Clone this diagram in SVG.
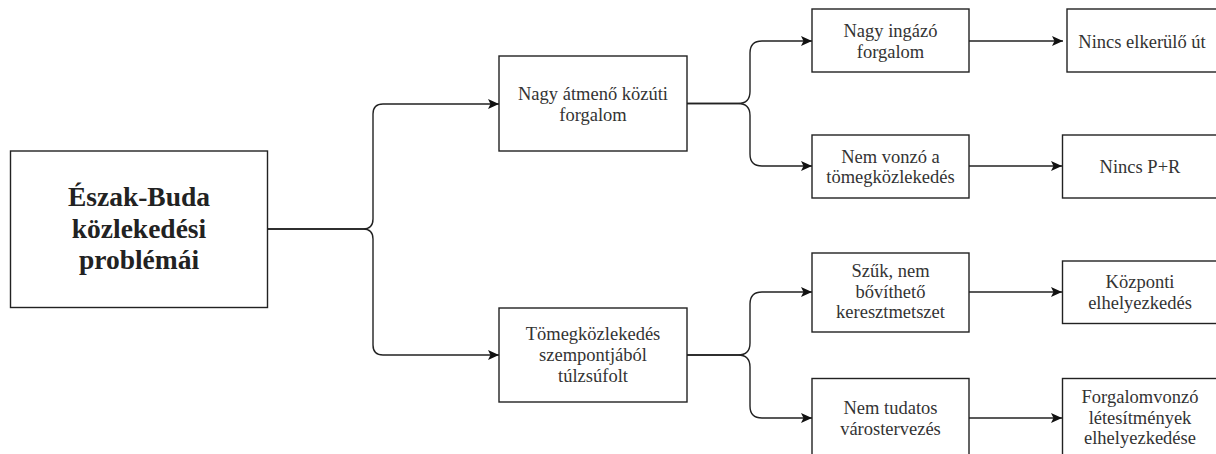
<svg xmlns="http://www.w3.org/2000/svg" width="1216" height="454" viewBox="0 0 1216 454">
<style>
.box{fill:#fff;stroke:#222;stroke-width:1.4}
.lbl{font-family:"Liberation Serif","Times New Roman",serif;font-size:18.5px;fill:#333;text-anchor:middle}
.rootlbl{font-family:"Liberation Serif","Times New Roman",serif;font-size:27.5px;font-weight:bold;fill:#222;text-anchor:middle}
.c{fill:none;stroke:#222;stroke-width:1.4}
</style>
<defs>
<marker id="arr" markerUnits="userSpaceOnUse" markerWidth="11" markerHeight="10" refX="11" refY="5" orient="auto">
<path d="M0,0 L11,5 L0,10 L2.5,5 z" fill="#111"/>
</marker>
</defs>
<rect width="1216" height="454" fill="#fff"/>
<g id="connectors">
<path class="c" marker-end="url(#arr)" d="M268,229 H363 Q373,229 373,219 V114 Q373,104 383,104 H499"/>
<path class="c" marker-end="url(#arr)" d="M268,229 H363 Q373,229 373,239 V345 Q373,355 383,355 H499"/>
<path class="c" marker-end="url(#arr)" d="M687,103.5 H738 Q750,103.5 750,91.5 V53 Q750,41 762,41 H812"/>
<path class="c" marker-end="url(#arr)" d="M687,103.5 H738 Q750,103.5 750,115.5 V154 Q750,166 762,166 H812"/>
<path class="c" marker-end="url(#arr)" d="M687,355 H738 Q750,355 750,343 V304 Q750,292 762,292 H812"/>
<path class="c" marker-end="url(#arr)" d="M687,355 H738 Q750,355 750,367 V406 Q750,418 762,418 H812"/>
<path class="c" marker-end="url(#arr)" d="M969,41 H1063"/>
<path class="c" marker-end="url(#arr)" d="M969,166 H1062"/>
<path class="c" marker-end="url(#arr)" d="M969,292 H1062"/>
<path class="c" marker-end="url(#arr)" d="M969,418 H1062"/>
</g>
<g id="root">
<rect class="box" x="10.5" y="151" width="257" height="156.5"/>
<text class="rootlbl" x="139" y="206">Észak-Buda</text>
<text class="rootlbl" x="139" y="238">közlekedési</text>
<text class="rootlbl" x="139" y="269">problémái</text>
</g>
<g id="mid1">
<rect class="box" x="499" y="56" width="188" height="95"/>
<text class="lbl" x="593" y="100">Nagy átmenő közúti</text>
<text class="lbl" x="593" y="120.5">forgalom</text>
</g>
<g id="mid2">
<rect class="box" x="499" y="308" width="188" height="94"/>
<text class="lbl" x="593" y="340">Tömegközlekedés</text>
<text class="lbl" x="593" y="361">szempontjából</text>
<text class="lbl" x="593" y="382">túlzsúfolt</text>
</g>
<g id="leaf1">
<rect class="box" x="812" y="9" width="157" height="63"/>
<text class="lbl" x="890.5" y="37">Nagy ingázó</text>
<text class="lbl" x="890.5" y="57.5">forgalom</text>
</g>
<g id="leaf2">
<rect class="box" x="812" y="135" width="157" height="63"/>
<text class="lbl" x="890.5" y="162.5">Nem vonzó a</text>
<text class="lbl" x="890.5" y="183">tömegközlekedés</text>
</g>
<g id="leaf3">
<rect class="box" x="812" y="253" width="157" height="79"/>
<text class="lbl" x="890.5" y="277">Szűk, nem</text>
<text class="lbl" x="890.5" y="297.5">bővíthető</text>
<text class="lbl" x="890.5" y="318">keresztmetszet</text>
</g>
<g id="leaf4">
<rect class="box" x="812" y="378.5" width="157" height="80"/>
<text class="lbl" x="890.5" y="414">Nem tudatos</text>
<text class="lbl" x="890.5" y="434.5">várostervezés</text>
</g>
<g id="right1">
<rect class="box" x="1067" y="9" width="152" height="63"/>
<text class="lbl" x="1142" y="48">Nincs elkerülő út</text>
</g>
<g id="right2">
<rect class="box" x="1062.5" y="135" width="157" height="63"/>
<text class="lbl" x="1140" y="173">Nincs P+R</text>
</g>
<g id="right3">
<rect class="box" x="1062.5" y="261" width="157" height="62.5"/>
<text class="lbl" x="1140" y="288">Központi</text>
<text class="lbl" x="1140" y="308.5">elhelyezkedés</text>
</g>
<g id="right4">
<rect class="box" x="1062.5" y="378.5" width="157" height="80"/>
<text class="lbl" x="1140" y="403">Forgalomvonzó</text>
<text class="lbl" x="1140" y="423.5">létesítmények</text>
<text class="lbl" x="1140" y="444">elhelyezkedése</text>
</g>
</svg>
